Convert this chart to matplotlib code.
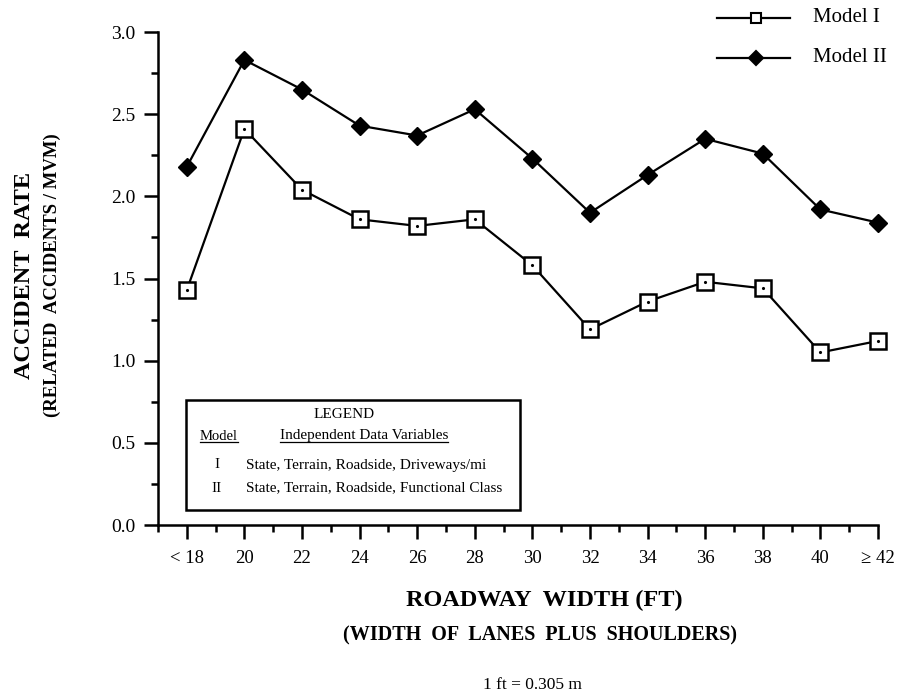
import matplotlib
matplotlib.use("Agg")
import matplotlib.pyplot as plt
from matplotlib.patches import Rectangle

plt.rcParams['font.family'] = ['Liberation Serif', 'DejaVu Serif']

categories = ["< 18", "20", "22", "24", "26", "28", "30", "32", "34", "36", "38", "40", "\u2265 42"]
model_1 = [1.43, 2.41, 2.04, 1.86, 1.82, 1.86, 1.58, 1.19, 1.36, 1.48, 1.44, 1.05, 1.12]
model_2 = [2.18, 2.83, 2.65, 2.43, 2.37, 2.53, 2.23, 1.90, 2.13, 2.35, 2.26, 1.92, 1.84]
y_ticks = [0.0, 0.5, 1.0, 1.5, 2.0, 2.5, 3.0]
y_tick_labels = ["0.0", "0.5", "1.0", "1.5", "2.0", "2.5", "3.0"]

fig = plt.figure(figsize=(9.03, 6.98), dpi=100)
ax = fig.add_axes([158/903, 1-525/698, (878-158)/903, (525-32)/698])

x = list(range(len(categories)))
ax.plot(x, model_2, color='black', lw=1.6, marker='D', markersize=9.5,
        markerfacecolor='black', markeredgecolor='black', zorder=3, clip_on=False)
ax.plot(x, model_1, color='black', lw=1.6, marker='s', markersize=11,
        markerfacecolor='white', markeredgecolor='black', markeredgewidth=1.8, zorder=3,
        clip_on=False)
ax.plot(x, model_1, linestyle='none', marker='.', markersize=2.5, color='black', zorder=4,
        clip_on=False)

ax.set_xlim(-0.5, 12)
ax.set_ylim(0, 3.0)
ax.spines['top'].set_visible(False)
ax.spines['right'].set_visible(False)
for s in ('left', 'bottom'):
    ax.spines[s].set_linewidth(1.8)

ax.set_xticks(x)
ax.set_xticklabels(categories, fontsize=13.5)
ax.set_xticks([i + 0.5 for i in range(-1, 12)], minor=True)
ax.set_yticks(y_ticks)
ax.set_yticklabels(y_tick_labels, fontsize=14)
ax.set_yticks([0.25, 0.75, 1.25, 1.75, 2.25, 2.75], minor=True)
ax.tick_params(axis='both', which='major', direction='out', length=10, width=1.8, pad=6)
ax.tick_params(axis='both', which='minor', direction='out', length=5, width=1.8)
ax.tick_params(axis='x', which='major', pad=8)

# Axis titles
fig.text(25/903, 1-275/698, "ACCIDENT  RATE", rotation=90, ha='center', va='center',
         fontsize=17.5, fontweight='bold')
fig.text(52/903, 1-275/698, "(RELATED  ACCIDENTS / MVM)", rotation=90, ha='center', va='center',
         fontsize=13.5, fontweight='bold')
fig.text(544/903, 1-600/698, "ROADWAY  WIDTH (FT)", ha='center', va='center',
         fontsize=17.5, fontweight='bold')
fig.text(540/903, 1-635/698, "(WIDTH  OF  LANES  PLUS  SHOULDERS)", ha='center', va='center',
         fontsize=14.5, fontweight='bold')
fig.text(532/903, 1-685/698, "1 ft = 0.305 m", ha='center', va='center', fontsize=12.5)

# Top-right legend
for yy, mk, fc, ms, lab in [(18, 's', 'white', 7.5, "Model I"), (58, 'D', 'black', 7, "Model II")]:
    yf = 1 - yy/698
    fig.add_artist(plt.Line2D([717/903, 790/903], [yf, yf], color='black', lw=1.6,
                              transform=fig.transFigure))
    fig.add_artist(plt.Line2D([756/903], [yf], marker=mk, markersize=ms, markerfacecolor=fc,
                              markeredgecolor='black', markeredgewidth=1.5, linestyle='none',
                              transform=fig.transFigure))
    fig.text(813/903, yf, lab, ha='left', va='center', fontsize=15)

# Legend box inside axes
fig.add_artist(Rectangle((186/903, 1-510/698), (520-186)/903, (510-400)/698,
                         transform=fig.transFigure, fill=True, facecolor='white',
                         edgecolor='black', lw=1.8, zorder=5))
fig.text(344/903, 1-415/698, "LEGEND", ha='center', va='center', fontsize=11, zorder=6)
t1 = fig.text(200/903, 1-436/698, "Model", ha='left', va='center', fontsize=10.5, zorder=6)
t2 = fig.text(280/903, 1-436/698, "Independent Data Variables", ha='left', va='center',
              fontsize=11, zorder=6)
fig.text(217/903, 1-465/698, "I", ha='center', va='center', fontsize=11, zorder=6)
fig.text(246/903, 1-465/698, "State, Terrain, Roadside, Driveways/mi", ha='left', va='center',
         fontsize=11, zorder=6)
fig.text(217/903, 1-488/698, "II", ha='center', va='center', fontsize=11, zorder=6)
fig.text(246/903, 1-488/698, "State, Terrain, Roadside, Functional Class", ha='left', va='center',
         fontsize=11, zorder=6)

fig.canvas.draw()
r = fig.canvas.get_renderer()
for t in (t1, t2):
    bb = t.get_window_extent(r).transformed(fig.transFigure.inverted())
    fig.add_artist(plt.Line2D([bb.x0, bb.x1], [bb.y0 + 0.001, bb.y0 + 0.001], color='black',
                              lw=0.9, transform=fig.transFigure, zorder=6))

fig.savefig("out.png", dpi=100)
